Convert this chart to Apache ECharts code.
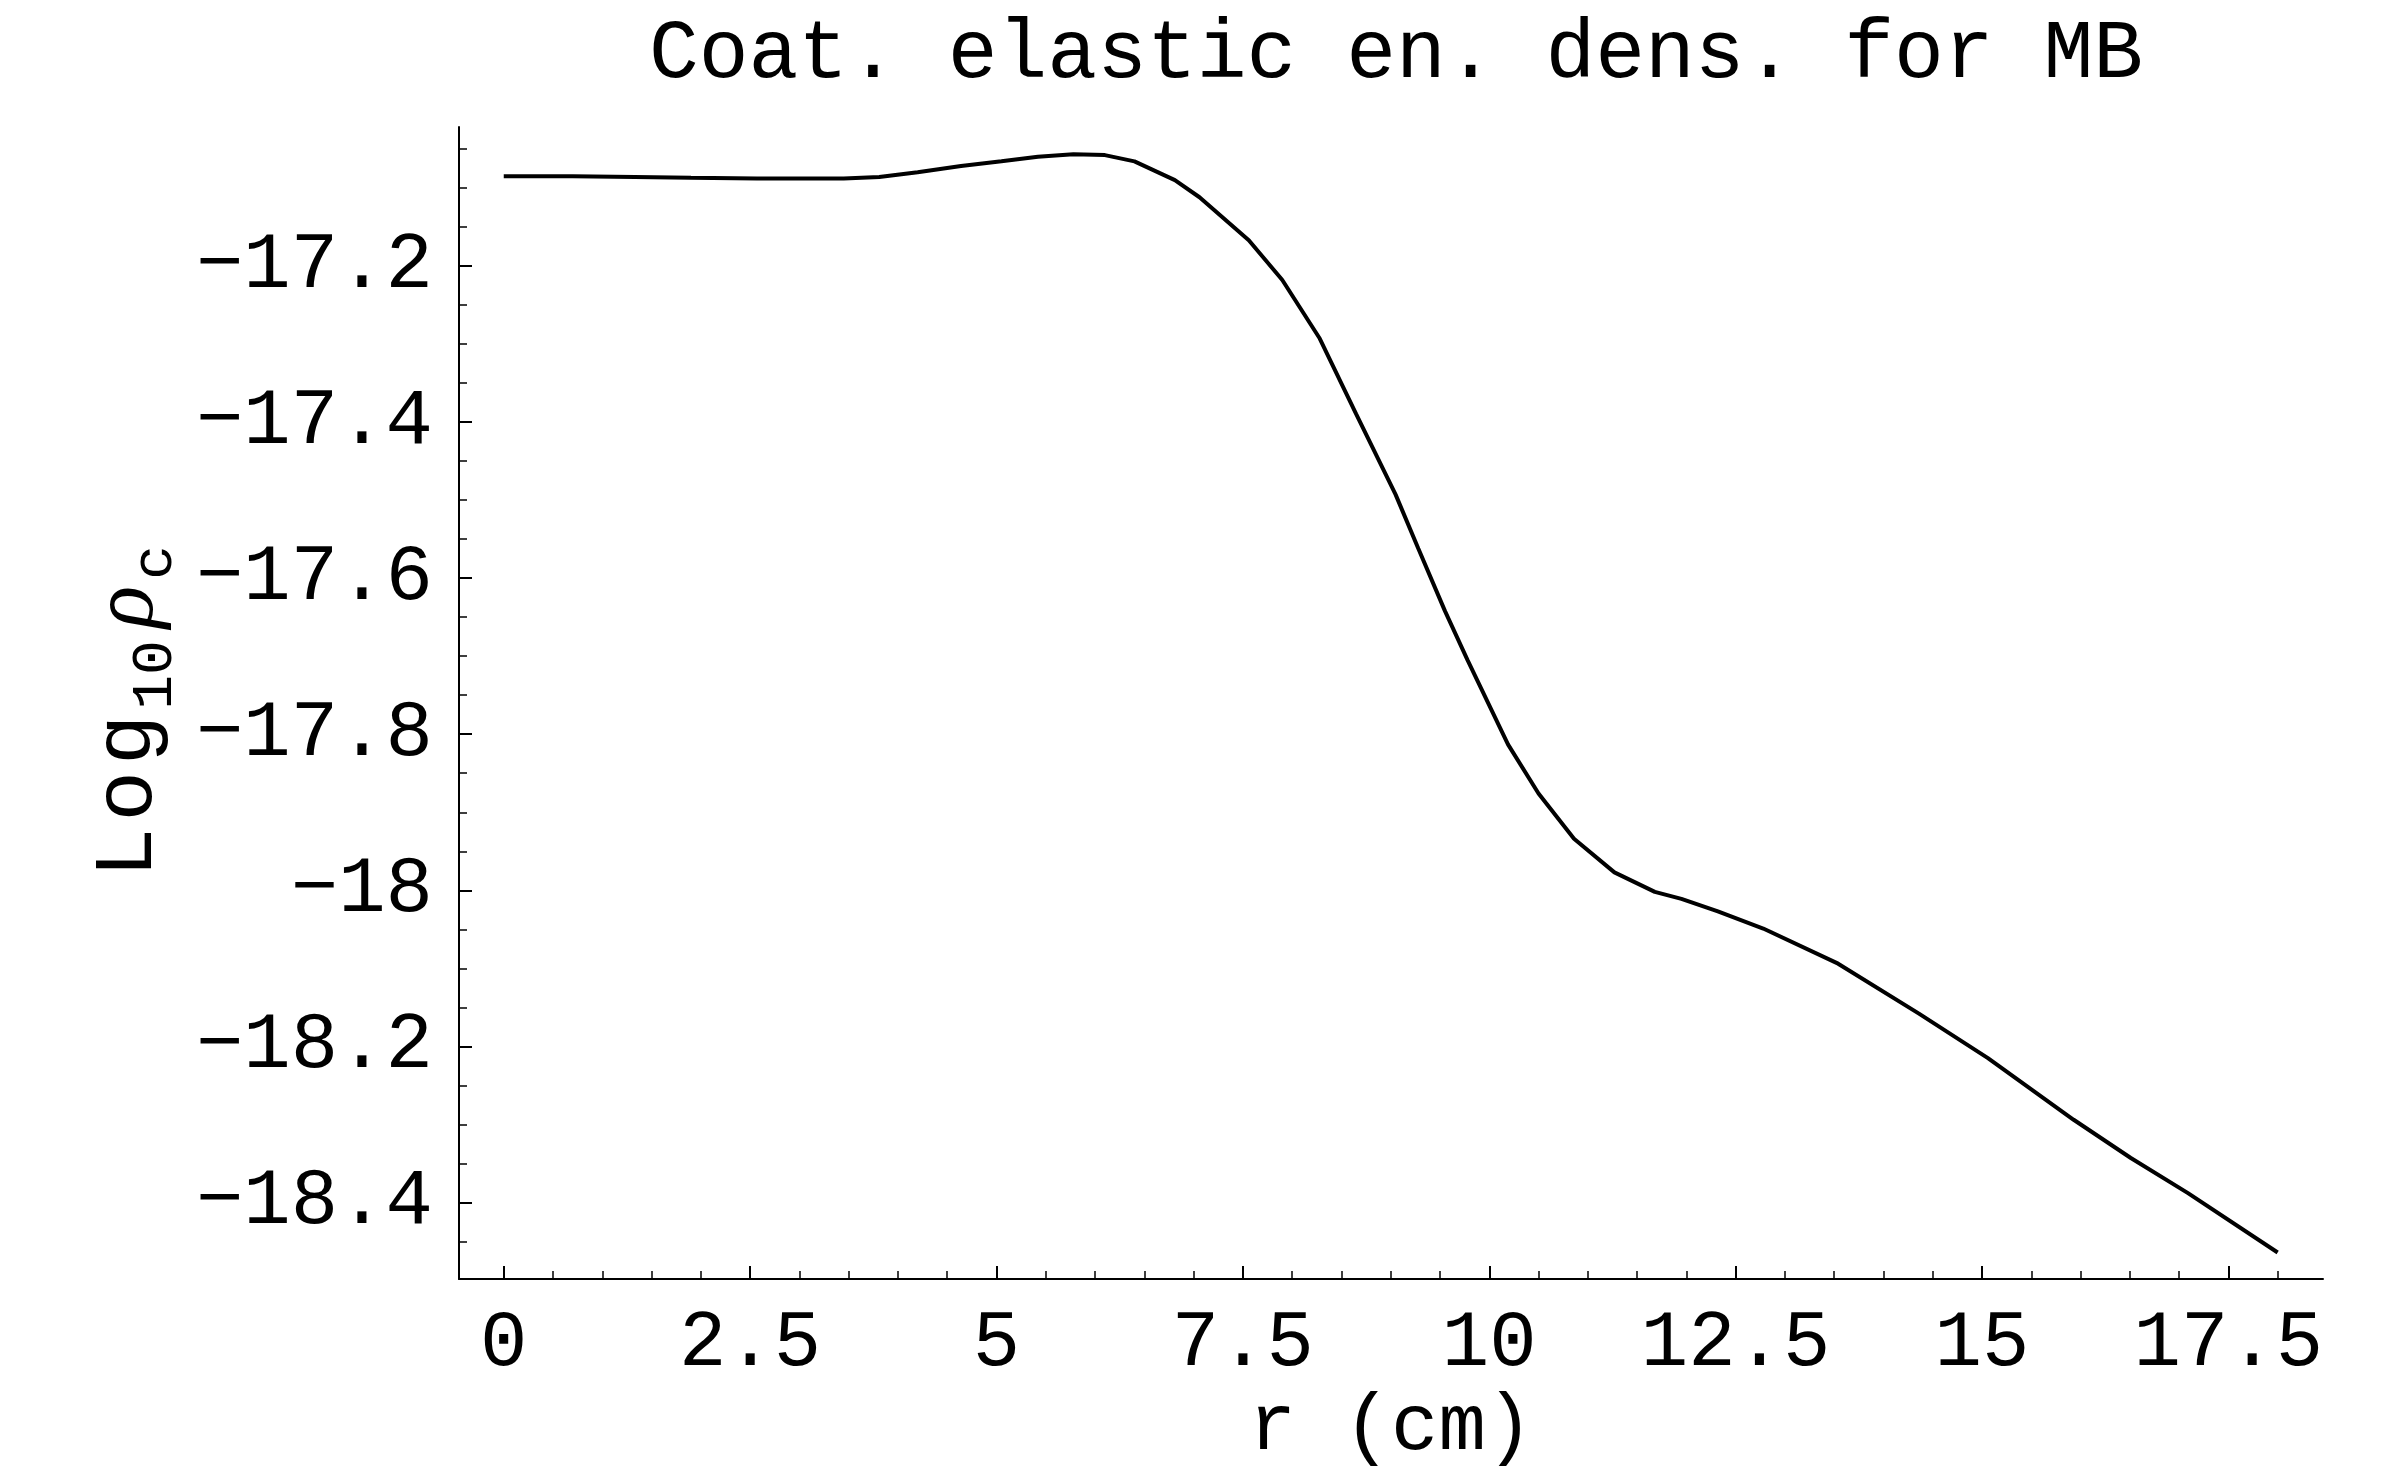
<!DOCTYPE html>
<html>
<head>
<meta charset="utf-8">
<script src="https://cdn.jsdelivr.net/npm/echarts@6/dist/echarts.min.js"></script>
<style>
html,body{margin:0;padding:0;background:#fff;}
#c{width:2400px;height:1483px;}
</style>
</head>
<body>
<div id="c"></div>
<script>
// ---- data ----
const titleText = 'Coat. elastic en. dens. for MB';
const xName = 'r (cm)';
const rVals = [0, 0.7, 1.33, 1.9, 2.57, 3.45, 3.81, 4.2, 4.64, 5.05, 5.42, 5.78, 6.1, 6.4, 6.81, 7.06,
  7.56, 7.9, 8.28, 8.65, 9.05, 9.28, 9.55, 9.78, 10.19, 10.5, 10.86, 11.27, 11.68, 11.95,
  12.32, 12.78, 13.54, 14.36, 15.06, 15.93, 16.51, 17.09, 18.0];
const logRho = [-17.085, -17.085, -17.086, -17.087, -17.088, -17.088, -17.086, -17.080, -17.072, -17.066,
  -17.060, -17.057, -17.058, -17.066, -17.090, -17.112, -17.167, -17.218, -17.293, -17.390,
  -17.493, -17.562, -17.642, -17.705, -17.813, -17.876, -17.934, -17.977, -18.002, -18.011,
  -18.027, -18.049, -18.094, -18.158, -18.215, -18.294, -18.343, -18.388, -18.464];

const xTickVals = [0, 2.5, 5, 7.5, 10, 12.5, 15, 17.5];
const xTickLabels = ['0', '2.5', '5', '7.5', '10', '12.5', '15', '17.5'];
const xMinorVals = [0.5, 1, 1.5, 2, 3, 3.5, 4, 4.5, 5.5, 6, 6.5, 7, 8, 8.5, 9, 9.5,
  10.5, 11, 11.5, 12, 13, 13.5, 14, 14.5, 15.5, 16, 16.5, 17, 18];
const yTickVals = [-18.4, -18.2, -18, -17.8, -17.6, -17.4, -17.2];
const yTickLabels = ['\u221218.4', '\u221218.2', '\u221218', '\u221217.8', '\u221217.6', '\u221217.4', '\u221217.2'];
const yMinorVals = [-18.45, -18.35, -18.3, -18.25, -18.15, -18.1, -18.05, -17.95, -17.9, -17.85,
  -17.75, -17.7, -17.65, -17.55, -17.5, -17.45, -17.35, -17.3, -17.25, -17.15, -17.1, -17.05];

const X_MIN = -0.454, X_MAX = 18.46;
const Y_MIN = -18.498, Y_MAX = -17.022;

const FONT = 'Liberation Mono';
const BLACK = '#000';

function lookup(vals, labels) {
  return function (v) {
    for (let i = 0; i < vals.length; i++) {
      if (Math.abs(vals[i] - v) < 1e-6) return labels[i];
    }
    return '';
  };
}

const chart = echarts.init(document.getElementById('c'), null, {renderer: 'canvas'});

const option = {
  backgroundColor: '#fff',
  animation: false,
  title: {
    text: titleText,
    left: 1391,
    top: 9,
    textAlign: 'center',
    textStyle: {fontFamily: FONT, fontSize: 83, fontWeight: 'normal', color: BLACK}
  },
  grid: {left: 459, right: 77, top: 127, bottom: 204, containLabel: false, outerBoundsMode: 'none'},
  xAxis: [
    {
      type: 'value', min: X_MIN, max: X_MAX, position: 'bottom',
      axisLine: {show: true, onZero: false, lineStyle: {color: BLACK, width: 2}},
      axisTick: {show: true, inside: true, length: 13, customValues: xTickVals, lineStyle: {color: BLACK, width: 2}},
      axisLabel: {show: true, customValues: xTickVals, formatter: lookup(xTickVals, xTickLabels),
        fontFamily: FONT, fontSize: 79, color: BLACK, margin: 26},
      splitLine: {show: false},
      name: xName, nameLocation: 'middle', nameGap: 107,
      nameTextStyle: {fontFamily: FONT, fontSize: 79, color: BLACK}
    },
    {
      type: 'value', min: X_MIN, max: X_MAX, position: 'bottom',
      axisLine: {show: false, onZero: false},
      axisTick: {show: true, inside: true, length: 8, customValues: xMinorVals, lineStyle: {color: BLACK, width: 1.5}},
      axisLabel: {show: false},
      splitLine: {show: false}
    }
  ],
  yAxis: [
    {
      type: 'value', min: Y_MIN, max: Y_MAX, position: 'left',
      axisLine: {show: true, onZero: false, lineStyle: {color: BLACK, width: 2}},
      axisTick: {show: true, inside: true, length: 13, customValues: yTickVals, lineStyle: {color: BLACK, width: 2}},
      axisLabel: {show: true, customValues: yTickVals, formatter: lookup(yTickVals, yTickLabels),
        fontFamily: FONT, fontSize: 79, color: BLACK, margin: 26},
      splitLine: {show: false},
      name: '{m|L}{m|o}{m|g}{s|10}{r|\u03C1}{e|c}',
      nameLocation: 'middle', nameRotate: 90, nameGap: 273,
      nameTextStyle: {
        color: BLACK,
        rich: {
          m: {fontFamily: FONT, fontSize: 84, lineHeight: 112, verticalAlign: 'middle', color: BLACK, padding: [0, 3, 0, 3]},
          s: {fontFamily: FONT, fontSize: 58, lineHeight: 58, verticalAlign: 'bottom', color: BLACK, padding: [0, 0, 0, 2]},
          r: {fontFamily: 'Liberation Serif', fontStyle: 'italic', fontSize: 88, lineHeight: 112, verticalAlign: 'middle', color: BLACK, padding: [0, 6, 0, 12]},
          e: {fontFamily: FONT, fontSize: 58, lineHeight: 58, verticalAlign: 'bottom', color: BLACK, padding: [0, 20, 0, 0]}
        }
      }
    },
    {
      type: 'value', min: Y_MIN, max: Y_MAX, position: 'left',
      axisLine: {show: false, onZero: false},
      axisTick: {show: true, inside: true, length: 8, customValues: yMinorVals, lineStyle: {color: BLACK, width: 1.5}},
      axisLabel: {show: false},
      splitLine: {show: false}
    }
  ],
  series: [
    {
      type: 'line',
      xAxisIndex: 0, yAxisIndex: 0,
      data: rVals.map((r, i) => [r, logRho[i]]),
      showSymbol: false, symbol: 'none',
      smooth: false,
      lineStyle: {color: BLACK, width: 4}
    }
  ]
};

chart.setOption(option);
</script>
</body>
</html>
